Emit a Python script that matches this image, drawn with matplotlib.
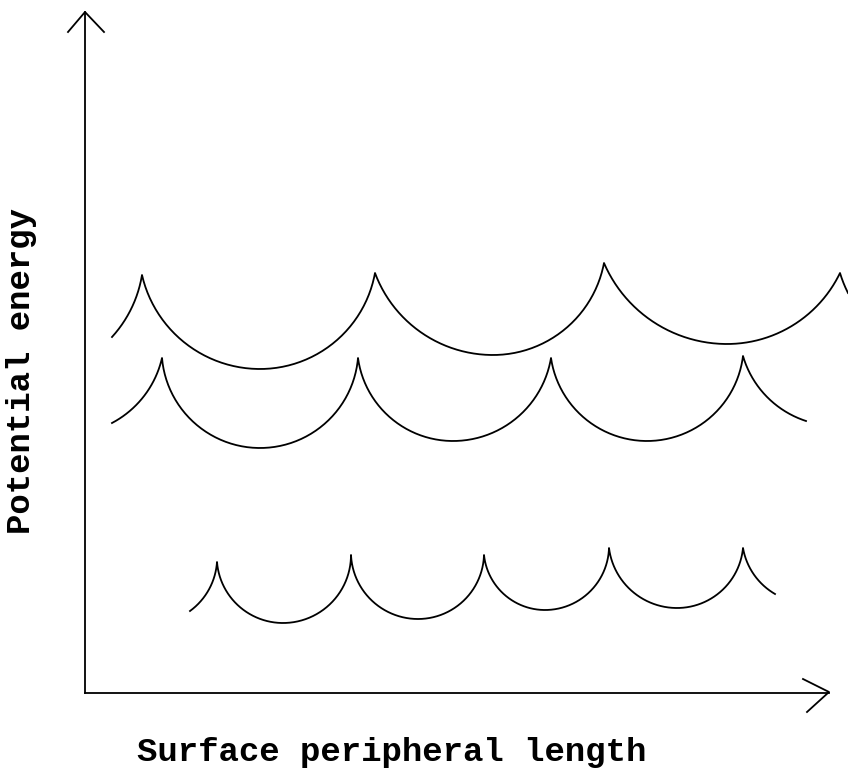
import numpy as np
import matplotlib.pyplot as plt

# three potential energy curves: cusps (peaks) and the valley bottoms between them
top_cusp_x = [57, 290, 519, 755]
top_cusp_y = [418, 420, 430, 420]
top_valley_x = [175, 408, 642]
top_valley_y = [324, 338, 349]
top_start = (27, 356)
top_end = (763, 400)

mid_cusp_x = [77, 273, 466, 658]
mid_cusp_y = [335, 335, 335, 337]
mid_valley_x = [175, 368, 562]
mid_valley_y = [245, 252, 252]
mid_start = (27, 270)
mid_end = (721, 272)

low_cusp_x = [132, 266, 399, 524, 658]
low_cusp_y = [131, 138, 138, 145, 145]
low_valley_x = [198, 333, 460, 592]
low_valley_y = [70, 74, 83, 85]
low_start = (105, 82)
low_end = (690, 99)


def arc_pts(center, r, p0, p1, n=80):
    a0 = np.arctan2(p0[1] - center[1], p0[0] - center[0])
    a1 = np.arctan2(p1[1] - center[1], p1[0] - center[0])
    a = np.linspace(a0, a1, n)
    return center[0] + r * np.cos(a), center[1] + r * np.sin(a)


def valley_radius(cx, cy, vx, vy):
    w, d = abs(cx - vx), cy - vy
    return (w * w + d * d) / (2 * d)


def half_arc(cx, cy, vx, vy):
    # circle touching the valley bottom and passing through the cusp
    r = valley_radius(cx, cy, vx, vy)
    return arc_pts((vx, vy + r), r, (cx, cy), (vx, vy)), r


def chord_arc(p0, p1, r):
    # circle of radius r through two points, bowl opening upwards
    p0, p1 = np.array(p0, float), np.array(p1, float)
    m = (p0 + p1) / 2
    c = p1 - p0
    L = np.hypot(*c)
    h = np.sqrt(max(r * r - (L / 2) ** 2, 0))
    nrm = np.array([-c[1], c[0]]) / L
    if nrm[1] < 0:
        nrm = -nrm
    return arc_pts(m + h * nrm, r, p0, p1)


def scallop(cusp_x, cusp_y, valley_x, valley_y, start, end):
    xs, ys = [], []
    r0 = valley_radius(cusp_x[0], cusp_y[0], valley_x[0], valley_y[0])
    x, y = chord_arc(start, (cusp_x[0], cusp_y[0]), r0)
    xs.append(x); ys.append(y)
    for i in range(len(valley_x)):
        (x, y), _ = half_arc(cusp_x[i], cusp_y[i], valley_x[i], valley_y[i])
        xs.append(x); ys.append(y)
        (x, y), _ = half_arc(cusp_x[i + 1], cusp_y[i + 1], valley_x[i], valley_y[i])
        xs.append(x[::-1]); ys.append(y[::-1])
    r1 = valley_radius(cusp_x[-1], cusp_y[-1], valley_x[-1], valley_y[-1])
    x, y = chord_arc((cusp_x[-1], cusp_y[-1]), end, r1)
    xs.append(x); ys.append(y)
    return np.concatenate(xs), np.concatenate(ys)


fig = plt.figure(figsize=(8.48, 7.76), dpi=100)
ax = fig.add_axes([0, 0, 1, 1])
ax.set_xlim(-85, 763)
ax.set_ylim(-83, 693)
ax.axis('off')

for cx, cy, vx, vy, s, e in [
    (top_cusp_x, top_cusp_y, top_valley_x, top_valley_y, top_start, top_end),
    (mid_cusp_x, mid_cusp_y, mid_valley_x, mid_valley_y, mid_start, mid_end),
    (low_cusp_x, low_cusp_y, low_valley_x, low_valley_y, low_start, low_end),
]:
    x, y = scallop(cx, cy, vx, vy, s, e)
    ax.plot(x, y, color='black', lw=1.3)

# axes with open arrow heads
lw = 1.3
ax.plot([0, 0], [0, 681], color='black', lw=lw)
ax.plot([-17, 0, 19], [661, 681, 661], color='black', lw=lw)
ax.plot([0, 744], [0, 0], color='black', lw=lw)
ax.plot([718, 744, 722], [14, 1, -19], color='black', lw=lw)

font = dict(family='Liberation Mono', fontweight='bold', fontsize=24.5)
ax.text(307, -59, 'Surface peripheral length', ha='center', va='center', **font)
ax.text(-63, 322, 'Potential energy', ha='center', va='center',
        rotation=90, **font)

plt.savefig('out.png', dpi=100)
